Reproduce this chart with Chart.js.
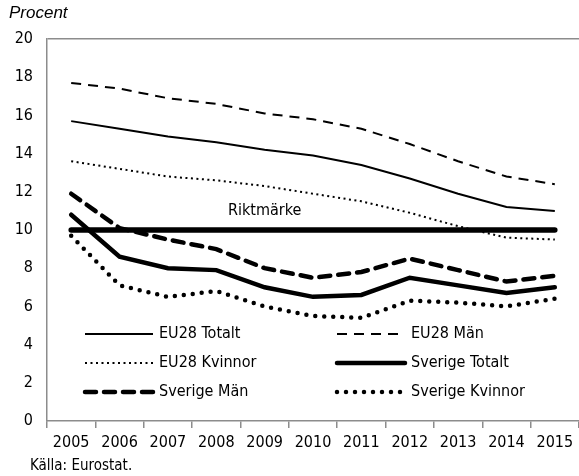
<!DOCTYPE html>
<html>
<head>
<meta charset="utf-8">
<script src="https://cdn.jsdelivr.net/npm/chart.js@4/dist/chart.umd.min.js"></script>
<style>
  html, body { margin: 0; padding: 0; background: #fff; }
  #wrap { position: relative; width: 579px; height: 476px; }
</style>
</head>
<body>
<div id="wrap"><canvas id="chart" width="579" height="476"></canvas></div>
<script>
const years = ["2005","2006","2007","2008","2009","2010","2011","2012","2013","2014","2015"];

const eu28Totalt   = [15.7, 15.3, 14.9, 14.6, 14.2, 13.9, 13.4, 12.7, 11.9, 11.2, 11.0];
const eu28Man      = [17.7, 17.4, 16.9, 16.6, 16.1, 15.8, 15.3, 14.5, 13.6, 12.8, 12.4];
const eu28Kvinnor  = [13.6, 13.2, 12.8, 12.6, 12.3, 11.9, 11.5, 10.9, 10.2, 9.6, 9.5];
const sveTotalt    = [10.8, 8.6, 8.0, 7.9, 7.0, 6.5, 6.6, 7.5, 7.1, 6.7, 7.0];
const sveMan       = [11.9, 10.1, 9.5, 9.0, 8.0, 7.5, 7.8, 8.5, 7.9, 7.3, 7.6];
const sveKvinnor   = [9.7, 7.1, 6.5, 6.8, 6.0, 5.5, 5.4, 6.3, 6.2, 6.0, 6.4];
const riktmarke    = [10, 10, 10, 10, 10, 10, 10, 10, 10, 10, 10];

const narrow = "'DejaVu Sans Condensed', 'Liberation Sans Narrow', sans-serif";

// draws the two-column legend, the Riktmärke label and the outer texts
const extras = {
  id: "extras",
  afterDraw(c) {
    const ctx = c.ctx;
    const xs = c.scales.x, ys = c.scales.y;
    ctx.save();

    // Riktmärke label
    ctx.fillStyle = "#000";
    ctx.font = "16px " + narrow;
    ctx.textAlign = "center";
    ctx.textBaseline = "middle";
    ctx.fillText("Riktmärke", xs.getPixelForValue(4), ys.getPixelForValue(11.0));

    // legend
    const cols = [85, 337];
    const rows = [334, 363, 392];
    const items = c.data.datasets.filter(d => d.label !== "Riktmärke");
    items.forEach((d, i) => {
      const x = cols[i % 2], y = rows[Math.floor(i / 2)];
      ctx.beginPath();
      ctx.strokeStyle = d.borderColor;
      ctx.lineWidth = d.borderWidth;
      ctx.lineCap = d.borderCapStyle || "butt";
      ctx.setLineDash(d.borderDash || []);
      ctx.moveTo(x, y);
      ctx.lineTo(x + 68, y);
      ctx.stroke();
      ctx.setLineDash([]);
      ctx.textAlign = "left";
      ctx.fillText(d.label, x + 74, y);
    });

    // title and source
    ctx.font = "italic 17px 'Liberation Sans', Arial, sans-serif";
    ctx.fillText("Procent", 9, 13);
    ctx.font = "15px " + narrow;
    ctx.fillText("Källa: Eurostat.", 30, 466);
    ctx.restore();
  }
};

new Chart(document.getElementById("chart"), {
  type: "line",
  data: {
    labels: years,
    datasets: [
      { label: "EU28 Totalt", data: eu28Totalt, borderColor: "#000", borderWidth: 2 },
      { label: "EU28 Män", data: eu28Man, borderColor: "#000", borderWidth: 2, borderDash: [10, 7] },
      { label: "EU28 Kvinnor", data: eu28Kvinnor, borderColor: "#000", borderWidth: 2, borderDash: [2, 3.5] },
      { label: "Sverige Totalt", data: sveTotalt, borderColor: "#000", borderWidth: 4.5, borderCapStyle: "round" },
      { label: "Sverige Män", data: sveMan, borderColor: "#000", borderWidth: 4.5, borderDash: [11, 8], borderCapStyle: "round" },
      { label: "Sverige Kvinnor", data: sveKvinnor, borderColor: "#000", borderWidth: 4.5, borderDash: [0, 9], borderCapStyle: "round" },
      { label: "Riktmärke", data: riktmarke, borderColor: "#000", borderWidth: 5.5, borderCapStyle: "round" }
    ]
  },
  options: {
    responsive: false,
    animation: false,
    layout: { padding: { top: 39, right: 0, left: 0, bottom: 0 } },
    elements: { point: { radius: 0 }, line: { tension: 0 } },
    plugins: { legend: { display: false }, tooltip: { enabled: false } },
    scales: {
      x: {
        offset: true,
        afterFit(s) { s.height = 55; },
        grid: { drawOnChartArea: false, drawTicks: true, tickLength: 7, color: "#8c8c8c", lineWidth: 1.5, offset: true },
        border: { color: "#8c8c8c", width: 1.5 },
        ticks: { color: "#000", padding: 5, maxRotation: 0, autoSkip: false, font: { family: narrow, size: 16 } }
      },
      y: {
        min: 0, max: 20,
        afterFit(s) { s.width = 47; },
        grid: {
          drawTicks: false,
          color: ctx => ctx.tick && ctx.tick.value === 20 ? "#8c8c8c" : "rgba(0,0,0,0)",
          lineWidth: 1.5
        },
        border: { color: "#8c8c8c", width: 1.5 },
        ticks: { stepSize: 2, color: "#000", padding: 14, font: { family: narrow, size: 16 } }
      }
    }
  },
  plugins: [extras]
});
</script>
</body>
</html>
